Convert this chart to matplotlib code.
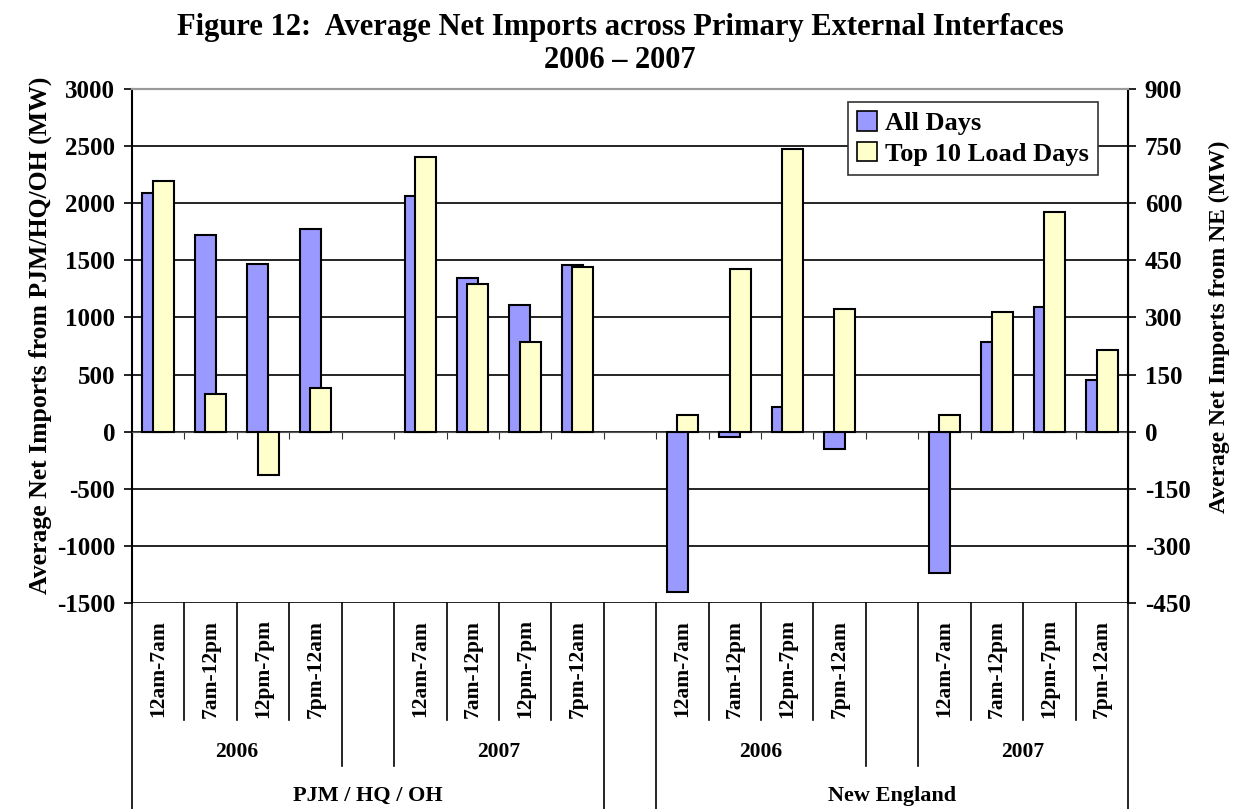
import matplotlib
matplotlib.use("Agg")
import matplotlib.pyplot as plt
from matplotlib.lines import Line2D
from matplotlib.patches import Patch
from matplotlib.transforms import blended_transform_factory
import numpy as np

plt.rcParams['font.family'] = ['Liberation Serif', 'DejaVu Serif']
plt.rcParams['font.weight'] = 'bold'
plt.rcParams['axes.unicode_minus'] = False

# categories (19 slots, '' = blank spacer slot)
periods = ['12am-7am', '7am-12pm', '12pm-7pm', '7pm-12am']
slots = periods + [''] + periods + [''] + periods + [''] + periods
years = [(0, 3, '2006'), (4, 4, ''), (5, 8, '2007'), (9, 9, ''),
         (10, 13, '2006'), (14, 14, ''), (15, 18, '2007')]
groups = [(0, 8, 'PJM / HQ / OH'), (9, 9, ''), (10, 18, 'New England')]

# PJM / HQ / OH (left axis, MW)
pjm_all = [2090, 1725, 1468, 1777, 2060, 1348, 1106, 1460]
pjm_top = [2192, 333, -380, 385, 2405, 1293, 788, 1442]
# New England (right axis, MW)
ne_all = [-421, -15, 66, -46, -371, 235, 328, 137]
ne_top = [44, 427, 743, 322, 45, 313, 577, 215]

pjm_x = np.array([0, 1, 2, 3, 5, 6, 7, 8])
ne_x = np.array([10, 11, 12, 13, 15, 16, 17, 18])

blue = '#9999FF'
yellow = '#FFFFCC'
w = 0.4

fig = plt.figure(figsize=(12.4, 8.09), dpi=100)
ax = fig.add_axes([132/1240, 1-603/809, 996/1240, 514/809])
ax2 = ax.twinx()

ax.bar(pjm_x - 0.1, pjm_all, w, color=blue, edgecolor='black', lw=1.5, zorder=3)
ax.bar(pjm_x + 0.1, pjm_top, w, color=yellow, edgecolor='black', lw=1.5, zorder=4)
ax2.bar(ne_x - 0.1, ne_all, w, color=blue, edgecolor='black', lw=1.5, zorder=3)
ax2.bar(ne_x + 0.1, ne_top, w, color=yellow, edgecolor='black', lw=1.5, zorder=4)

ax.set_xlim(-0.5, len(slots) - 0.5)
ax.set_ylim(-1500, 3000)
ax2.set_ylim(-450, 900)
ax.set_yticks(np.arange(-1500, 3001, 500))
ax2.set_yticks(np.arange(-450, 901, 150))
ax.yaxis.grid(True, color='black', lw=1.2)
ax.set_axisbelow(True)

ax.spines['bottom'].set_position(('data', 0))
ax.spines['bottom'].set_color('#555555')
for a in (ax, ax2):
    a.spines['top'].set_color('#999999')
    a.spines['top'].set_linewidth(1.5)
ax2.spines['bottom'].set_visible(False)
ax.spines['left'].set_linewidth(1.5)
ax2.spines['right'].set_linewidth(1.5)
ax2.spines['left'].set_visible(False)

ax.set_xticks(np.arange(-0.5, len(slots)))
ax.tick_params(axis='x', length=5, direction='out', labelbottom=False, color='#333333')
ax.tick_params(axis='y', length=6, width=1.2, labelsize=18, pad=6)
ax2.tick_params(axis='y', length=6, width=1.2, labelsize=18, pad=6)

ax.set_ylabel('Average Net Imports from PJM/HQ/OH (MW)', fontsize=18.5, fontweight='bold')
ax2.set_ylabel('Average Net Imports from NE (MW)', fontsize=17, fontweight='bold')
ax.yaxis.set_label_coords(-0.08, 0.52)
ax2.yaxis.set_label_coords(1.081, 0.537)

fig.text(0.5, 1-27/809, 'Figure 12:  Average Net Imports across Primary External Interfaces',
         ha='center', va='center', fontsize=22, fontweight='bold')
fig.text(0.5, 1-61/809, '2006 \u2013 2007', ha='center', va='center', fontsize=22, fontweight='bold')

# multi-level category table below the plot
tr = blended_transform_factory(ax.transData, fig.transFigure)
y_top = 1 - 603/809
y_short = 1 - 720/809
y_mid = 1 - 766/809
y_full = 0.0
top_b = set()
for s, e, _ in groups:
    top_b.update([s, e + 1])
year_b = set()
for s, e, _ in years:
    year_b.update([s, e + 1])
for b in range(len(slots) + 1):
    if b in top_b:
        y_end = y_full
    elif b in year_b:
        y_end = y_mid
    else:
        y_end = y_short
    fig.add_artist(Line2D([b - 0.5, b - 0.5], [y_top, y_end], transform=tr,
                          color='black', lw=1.2, clip_on=False))

for i, lab in enumerate(slots):
    if lab:
        fig.text(i, 1 - 669/809, lab, transform=tr, rotation=90, ha='center', va='center',
                 fontsize=15.5, fontweight='bold')
for s, e, lab in years:
    if lab:
        fig.text((s + e) / 2, 1 - 752/809, lab, transform=tr, ha='center', va='center',
                 fontsize=15.5, fontweight='bold')
for s, e, lab in groups:
    if lab:
        fig.text((s + e) / 2, 1 - 796/809, lab, transform=tr, ha='center', va='center',
                 fontsize=16, fontweight='bold')

handles = [Patch(facecolor=blue, edgecolor='black', lw=1.2, label='All Days'),
           Patch(facecolor=yellow, edgecolor='black', lw=1.2, label='Top 10 Load Days')]
leg = ax2.legend(handles=handles, loc='upper right', bbox_to_anchor=(1098/1240, 1-102/809),
                 bbox_transform=fig.transFigure, prop={'weight': 'bold', 'size': 19},
                 frameon=True, fancybox=False, edgecolor='#333333', framealpha=1,
                 handlelength=0.75, handleheight=0.75, handletextpad=0.3, borderpad=0.35,
                 labelspacing=0.25, borderaxespad=0)
leg.get_frame().set_linewidth(1.2)
leg.set_zorder(10)

fig.savefig('out.png', dpi=100)
